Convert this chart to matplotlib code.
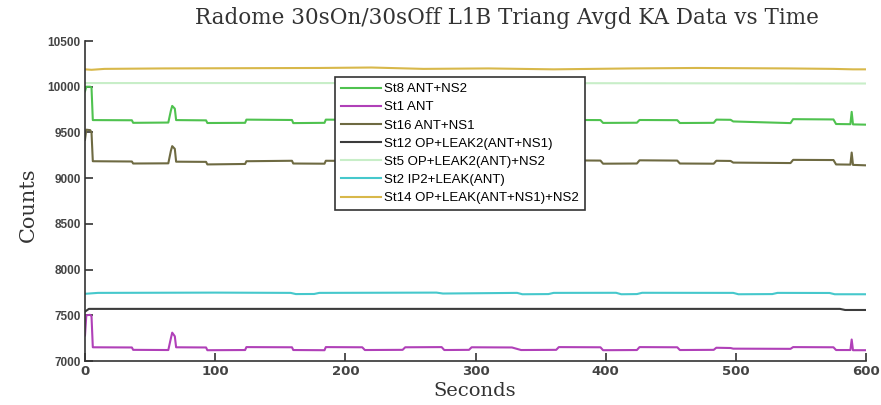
import numpy as np
import matplotlib
matplotlib.use('Agg')
import matplotlib.pyplot as plt

# data (seconds, counts)
t_main = [0, 1, 4, 5, 6, 36, 37, 64, 66, 67, 69, 70, 93, 94, 123, 124, 159, 160,
          184, 185, 213, 215, 244, 246, 274, 276, 295, 297, 328, 335, 362, 364,
          396, 398, 424, 426, 455, 457, 483, 485, 496, 498, 542, 544, 575, 577,
          588, 589, 590, 600]

st8 = [9950, 10000, 10000, 9990, 9635, 9633, 9605, 9608, 9740, 9790, 9760, 9635,
       9632, 9603, 9605, 9640, 9636, 9602, 9605, 9640, 9637, 9606, 9604, 9638,
       9640, 9605, 9607, 9635, 9632, 9605, 9603, 9637, 9635, 9604, 9606, 9636,
       9634, 9603, 9605, 9640, 9638, 9620, 9602, 9645, 9642, 9592, 9590, 9725,
       9588, 9585]

st1 = [7280, 7500, 7505, 7490, 7150, 7148, 7122, 7120, 7250, 7310, 7270, 7150,
       7148, 7118, 7120, 7152, 7150, 7120, 7118, 7152, 7150, 7120, 7122, 7150,
       7152, 7120, 7122, 7150, 7148, 7120, 7122, 7152, 7150, 7118, 7120, 7152,
       7150, 7120, 7122, 7145, 7142, 7135, 7133, 7152, 7150, 7120, 7120, 7235,
       7118, 7118]

st16 = [9420, 9530, 9525, 9500, 9185, 9182, 9160, 9162, 9300, 9350, 9320, 9180,
        9178, 9150, 9155, 9185, 9190, 9160, 9158, 9190, 9188, 9165, 9162, 9190,
        9192, 9165, 9163, 9190, 9185, 9160, 9162, 9195, 9192, 9158, 9160, 9195,
        9192, 9160, 9158, 9190, 9188, 9170, 9165, 9200, 9198, 9150, 9148, 9280,
        9145, 9140]

t_st12 = [0, 3, 580, 584, 600]
st12 = [7540, 7570, 7570, 7558, 7558]

t_st5 = [0, 300, 600]
st5 = [10040, 10040, 10035]

t_st2 = [0, 10, 100, 158, 162, 176, 180, 270, 275, 332, 336, 356, 360, 408, 412,
         424, 428, 498, 502, 528, 532, 572, 576, 600]
st2 = [7735, 7745, 7748, 7745, 7732, 7733, 7745, 7748, 7738, 7745, 7730, 7732,
       7745, 7746, 7730, 7732, 7746, 7745, 7730, 7732, 7745, 7744, 7730, 7730]

t_st14 = [0, 5, 15, 60, 180, 220, 260, 310, 360, 420, 470, 540, 575, 590, 600]
st14 = [10190, 10185, 10195, 10200, 10205, 10210, 10195, 10200, 10190, 10200,
        10205, 10200, 10195, 10190, 10190]

labels = ['St8 ANT+NS2', 'St1 ANT', 'St16 ANT+NS1', 'St12 OP+LEAK2(ANT+NS1)',
          'St5 OP+LEAK2(ANT)+NS2', 'St2 IP2+LEAK(ANT)', 'St14 OP+LEAK(ANT+NS1)+NS2']
colors = ['#4fc24f', '#b040b8', '#6e6a42', '#3c3c3c', '#c8eec8', '#46c8cc', '#d8b84a']

series = [(t_main, st8), (t_main, st1), (t_main, st16), (t_st12, st12),
          (t_st5, st5), (t_st2, st2), (t_st14, st14)]

fig = plt.figure(figsize=(8.81, 4.05), dpi=100)
ax = fig.add_axes([85/881, 44/405, 781/881, 320/405])

for (tt, vv), lab, col in zip(series, labels, colors):
    ax.plot(tt, vv, color=col, lw=1.5, label=lab)

ax.set_xlim(0, 600)
ax.set_ylim(7000, 10500)
ax.set_xticks(np.arange(0, 601, 100))
ax.set_yticks(np.arange(7000, 10501, 500))
for s in ['top', 'right']:
    ax.spines[s].set_visible(False)
for s in ['left', 'bottom']:
    ax.spines[s].set_linewidth(1.2)
    ax.spines[s].set_color('#333333')
ax.tick_params(direction='in', length=5.5, width=1.2, color='#333333', pad=3)
for lab in ax.get_yticklabels():
    lab.set_fontfamily('Liberation Sans')
    lab.set_fontweight('bold')
    lab.set_fontsize(8.5)
    lab.set_color('#444444')
for lab in ax.get_xticklabels():
    lab.set_fontfamily('Liberation Sans Narrow')
    lab.set_fontweight('bold')
    lab.set_fontsize(9.5)
    lab.set_color('#444444')

fig.text(507/881, 1-18/405, 'Radome 30sOn/30sOff L1B Triang Avgd KA Data vs Time',
         ha='center', va='center', family='DejaVu Serif', fontsize=15.5, color='#333333')
fig.text(28/881, 1-205/405, 'Counts', ha='center', va='center', rotation=90,
         family='DejaVu Serif', fontsize=15, color='#333333')
fig.text(475/881, 1-391/405, 'Seconds', ha='center', va='center',
         family='DejaVu Serif', fontsize=14, color='#333333')

leg = ax.legend(loc='upper left', bbox_to_anchor=((335-85)/781, (361-77)/320),
                prop={'family': 'Liberation Sans', 'size': 9.5}, fancybox=False,
                framealpha=1, edgecolor='#333333', handlelength=3.0,
                handletextpad=0.3, labelspacing=0.45, borderpad=0.45,
                borderaxespad=0)
leg.get_frame().set_linewidth(1.2)

fig.savefig('out.png', dpi=100)
